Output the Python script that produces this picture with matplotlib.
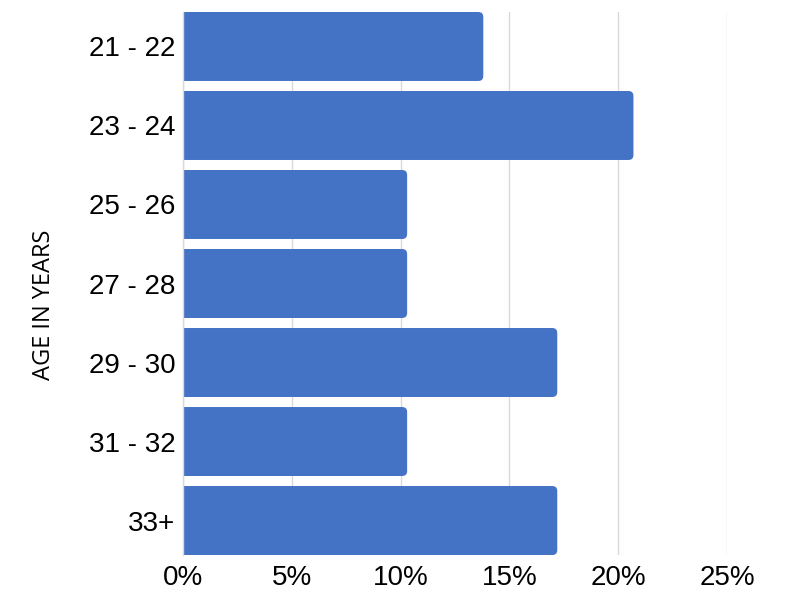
import matplotlib
matplotlib.use("Agg")
import matplotlib.pyplot as plt
from matplotlib.patches import FancyBboxPatch
from matplotlib.ticker import FuncFormatter

categories = ["21 - 22", "23 - 24", "25 - 26", "27 - 28", "29 - 30", "31 - 32", "33+"]
values = [0.138, 0.207, 0.103, 0.103, 0.172, 0.103, 0.172]
x_ticks = [0, 0.05, 0.10, 0.15, 0.20, 0.25]
y_label = "AGE IN YEARS"

bar_color = "#4472C4"
grid_color = "#D9D9D9"
h = 0.873

fig = plt.figure(figsize=(8, 6), dpi=100)
ax = fig.add_axes([0.22875, 0.075, 0.68, 0.905])

pos = list(range(len(categories)))
bars = ax.barh(pos, values, height=h, color=bar_color, zorder=3)
ax.set_xlim(0, 0.25)
ax.set_ylim(len(categories) - 1 + h / 2, -h / 2)

# rounded right corners
px_x = 0.25 / 544.0
px_y = (len(categories) - 1 + h) / 543.0
r = 5
for b in bars:
    x, y = b.get_x(), b.get_y()
    w, hh = b.get_width(), b.get_height()
    b.set_visible(False)
    p = FancyBboxPatch((x - 0.01, y), w + 0.01, hh,
                       boxstyle=f"round,pad=0,rounding_size={r * px_x}",
                       mutation_aspect=px_y / px_x,
                       facecolor=bar_color, edgecolor="none", zorder=3)
    ax.add_patch(p)

ax.set_yticks(pos)
ax.set_yticklabels(categories)
ax.set_xticks(x_ticks)
ax.xaxis.set_major_formatter(FuncFormatter(lambda v, _: f"{v * 100:.0f}%"))

for lab in ax.get_xticklabels() + ax.get_yticklabels():
    lab.set_fontfamily("Liberation Sans")
    lab.set_fontsize(20)
    lab.set_color("#000000")

ax.tick_params(axis="both", length=0)
ax.tick_params(axis="y", pad=5.5)
ax.tick_params(axis="x", pad=7)

ax.grid(axis="x", color=grid_color, linewidth=1, zorder=0)
ax.set_axisbelow(True)
for s in ["top", "right", "bottom"]:
    ax.spines[s].set_visible(False)
ax.spines["left"].set_color(grid_color)
ax.spines["left"].set_linewidth(1)
ax.spines["left"].set_zorder(4)

fig.text(0.055, 0.492, y_label, rotation=90, ha="center", va="center",
         fontfamily="Open Sans", fontsize=17, color="#000000")

fig.savefig("out.png", dpi=100)
